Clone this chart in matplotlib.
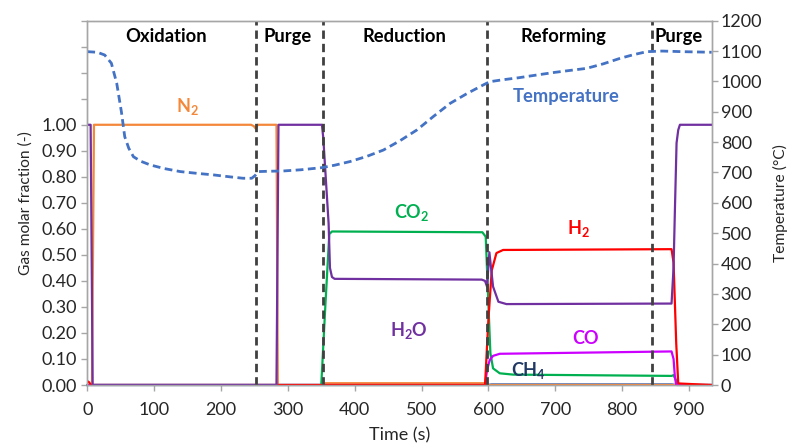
import matplotlib
matplotlib.use("Agg")
import matplotlib.pyplot as plt
import numpy as np

plt.rcParams['font.family'] = ['Lato', 'DejaVu Sans']
plt.rcParams['mathtext.fontset'] = 'custom'
plt.rcParams['mathtext.rm'] = 'Lato'
plt.rcParams['mathtext.bf'] = 'Lato:bold'

# ---------------- data ----------------
t_n2 = [0, 7, 10, 245, 249, 252, 255, 283, 285, 352, 356, 595, 598, 934]
n2 = [0, 0, 1.0, 1.0, 0.995, 0.985, 1.0, 1.0, 0, 0, 0.007, 0.007, 0, 0]

t_h2o = [0, 5, 8, 283, 286, 351, 353, 361, 363, 366, 370, 590, 595, 598, 601.5,
         607, 615, 627, 874, 877, 879, 881.5, 884, 886.5, 934]
h2o = [1.0, 1.0, 0, 0, 1.0, 1.0, 0.95, 0.62, 0.45, 0.415, 0.408, 0.405, 0.40,
       0.378, 0.51, 0.378, 0.32, 0.311, 0.313, 0.45, 0.67, 0.93, 0.98, 1.0, 1.0]

t_co2 = [0, 350, 356, 362, 366, 591, 596, 600, 603, 607, 617, 637, 874, 877, 884, 934]
co2 = [0, 0, 0.30, 0.58, 0.59, 0.587, 0.57, 0.314, 0.122, 0.064, 0.045, 0.04,
       0.035, 0.038, 0, 0]

t_h2 = [0, 3, 5, 595, 600, 605, 612, 622, 874, 877, 881, 884, 934]
h2 = [0.015, 0.01, 0, 0, 0.25, 0.44, 0.507, 0.519, 0.522, 0.47, 0.16, 0.006, 0]

t_co = [0, 595, 598, 602, 607, 617, 874, 877, 879, 881, 934]
co = [0, 0, 0.058, 0.096, 0.112, 0.12, 0.129, 0.1, 0.032, 0, 0]

t_ch4 = [0, 598, 605, 874, 882, 934]
ch4 = [0, 0, 0.003, 0.003, 0, 0]

t_temp = [0, 15, 26, 36, 44, 51, 56, 62, 69, 80, 94, 115, 139, 165, 189, 212,
          233, 246, 251, 256, 270, 293, 320, 351, 370, 393, 418, 443, 468, 493,
          518, 543, 568, 592, 602, 620, 645, 672, 700, 725, 747, 772, 797, 817,
          837, 860, 890, 934]
temp = [1098, 1096, 1087, 1060, 994, 900, 818, 780, 752, 737, 725, 713, 703,
        697, 692, 686, 681, 681, 690, 703, 704, 705, 709, 716, 724, 736, 753,
        774, 805, 840, 885, 928, 960, 988, 999, 1005, 1012, 1021, 1030, 1037,
        1043, 1058, 1076, 1088, 1098, 1100, 1098, 1096]

phase_bounds = [252, 352, 598, 845]
phase_names = ["Oxidation", "Purge", "Reduction", "Reforming", "Purge"]
phase_x = [118, 300, 475, 712, 884]

x_ticks = list(range(0, 1000, 100))
y_ticks = [0.0, 0.1, 0.2, 0.3, 0.4, 0.5, 0.6, 0.7, 0.8, 0.9, 1.0, 1.1, 1.2, 1.3, 1.4]
t_ticks = list(range(0, 1300, 100))

# ---------------- styling ----------------
c_n2 = '#F4883A'
c_h2o = '#7030A0'
c_co2 = '#00B050'
c_h2 = '#FF0000'
c_co = '#CC00FF'
c_ch4 = '#5B7FBF'
c_ch4_lab = '#1F3864'
c_temp = '#4472C4'
spine_c = '#A6A6A6'
txt_c = '#262626'

fig = plt.figure(figsize=(7.98, 4.45), dpi=100)
ax = fig.add_axes([0.1094, 0.1348, 0.7824, 0.8187])
ax2 = ax.twinx()

lw = 1.6
ax.plot(t_ch4, ch4, color=c_ch4, lw=lw, clip_on=False, zorder=3)
ax.plot(t_n2, n2, color=c_n2, lw=lw, zorder=3)
ax.plot(t_co2, co2, color=c_co2, lw=lw, zorder=3)
ax.plot(t_co, co, color=c_co, lw=lw, zorder=3)
ax.plot(t_h2, h2, color=c_h2, lw=lw, zorder=3)
ax.plot(t_h2o, h2o, color=c_h2o, lw=lw, zorder=3)

for xb in phase_bounds:
    ax.axvline(xb, color='#404040', lw=2.0, dashes=(3.0, 1.8), zorder=4)

ax2.plot(t_temp, temp, color=c_temp, lw=2.0, dashes=(2.8, 1.6))

ax.set_xlim(0, 934)
ax.set_ylim(0, 1.4)
ax2.set_ylim(0, 1200)

ax.set_xticks(x_ticks)
ax.set_xticklabels([str(v) for v in x_ticks])
ax.set_yticks(y_ticks)
ax.set_yticklabels([f"{v:.2f}" if v <= 1.0001 else "" for v in y_ticks])
ax2.set_yticks(t_ticks)
ax2.set_yticklabels([str(v) for v in t_ticks])

for a in (ax, ax2):
    for s in a.spines.values():
        s.set_color(spine_c)
        s.set_linewidth(1.0)
    a.tick_params(colors=spine_c, labelcolor=txt_c, labelsize=13,
                  length=4, width=1.0, direction='out')
ax.tick_params(axis='x', pad=8)
ax2.tick_params(axis='y', pad=2.5)

ax.set_xlabel("Time (s)", fontsize=13, color=txt_c, labelpad=7)
ax.set_ylabel("Gas molar fraction (-)", fontsize=11.2, color=txt_c, labelpad=6)
ax2.set_ylabel("Temperature (°C)", fontsize=11.2, color=txt_c, labelpad=8)

for name, xp in zip(phase_names, phase_x):
    ax.text(xp, 1.338, name, ha='center', va='center', fontsize=13.2,
            fontweight='bold', color='black')

ax.text(150, 1.07, r"N$_\mathbf{2}$", color=c_n2, fontsize=13,
        fontweight='bold', ha='center', va='center')
ax.text(716, 1.108, "Temperature", color=c_temp, fontsize=13.2,
        fontweight='bold', ha='center', va='center')
ax.text(486, 0.662, r"CO$_\mathbf{2}$", color=c_co2, fontsize=13,
        fontweight='bold', ha='center', va='center')
ax.text(481, 0.21, r"H$_\mathbf{2}$O", color=c_h2o, fontsize=13,
        fontweight='bold', ha='center', va='center')
ax.text(734, 0.60, r"H$_\mathbf{2}$", color=c_h2, fontsize=13,
        fontweight='bold', ha='center', va='center')
ax.text(745, 0.18, "CO", color=c_co, fontsize=13,
        fontweight='bold', ha='center', va='center')
ax.text(660, 0.057, r"CH$_\mathbf{4}$", color=c_ch4_lab, fontsize=13,
        fontweight='bold', ha='center', va='center')

fig.savefig("out.png", dpi=100)
